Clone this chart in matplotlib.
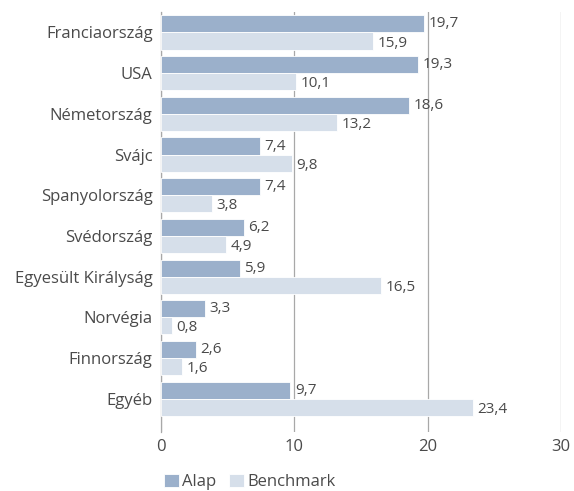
import numpy as np
import matplotlib
matplotlib.use("Agg")
import matplotlib.pyplot as plt

categories = ["Franciaország", "USA", "Németország", "Svájc", "Spanyolország",
              "Svédország", "Egyesült Királyság", "Norvégia", "Finnország", "Egyéb"]
alap = [19.7, 19.3, 18.6, 7.4, 7.4, 6.2, 5.9, 3.3, 2.6, 9.7]
benchmark = [15.9, 10.1, 13.2, 9.8, 3.8, 4.9, 16.5, 0.8, 1.6, 23.4]
xticks = [0, 10, 20, 30]

C_ALAP = "#9bb0cb"
C_BENCH = "#d6dfea"
C_TEXT = "#4a4a4a"
C_GRID = "#a8a8a8"

plt.rcParams["font.family"] = ["Open Sans", "DejaVu Sans"]

fig = plt.figure(figsize=(5.74, 4.91), dpi=100)
ax = fig.add_axes([0.2805, 0.1202, 0.6965, 0.8554])

y = np.arange(len(categories))
h = 0.42
ax.barh(y - h / 2, alap, height=h, color=C_ALAP, edgecolor="white", lw=0.6, label="Alap", zorder=3)
ax.barh(y + h / 2, benchmark, height=h, color=C_BENCH, edgecolor="white", lw=0.6, label="Benchmark", zorder=3)

def fmt(v):
    return f"{v:.1f}".replace(".", ",")

for yi, a, b in zip(y, alap, benchmark):
    ax.text(a + 0.35, yi - h / 2, fmt(a), va="center", ha="left", fontsize=11, color=C_TEXT, zorder=4)
    ax.text(b + 0.35, yi + h / 2 + 0.05, fmt(b), va="center", ha="left", fontsize=11, color=C_TEXT, zorder=4)

ax.set_xlim(0, 30)
ax.set_ylim(9.816, -0.504)
ax.set_xticks(xticks)
ax.set_xticklabels([str(t) for t in xticks])
ax.set_yticks(y)
ax.set_yticklabels(categories)
ax.tick_params(axis="both", length=0, labelsize=12, labelcolor=C_TEXT)
ax.tick_params(axis="x", pad=5)
ax.tick_params(axis="y", pad=6)
ax.xaxis.grid(True, color=C_GRID, lw=0.9, zorder=0)
for s in ["top", "right", "bottom"]:
    ax.spines[s].set_visible(False)
ax.spines["left"].set_color(C_GRID)
ax.spines["left"].set_linewidth(0.9)

ax.legend(loc="upper left", bbox_to_anchor=(-0.01, -0.083), ncol=2, frameon=False,
          fontsize=12, labelcolor=C_TEXT, handlelength=0.9, handleheight=0.9,
          handletextpad=0.2, columnspacing=0.8, borderaxespad=0)

fig.savefig("out.png", dpi=100)
